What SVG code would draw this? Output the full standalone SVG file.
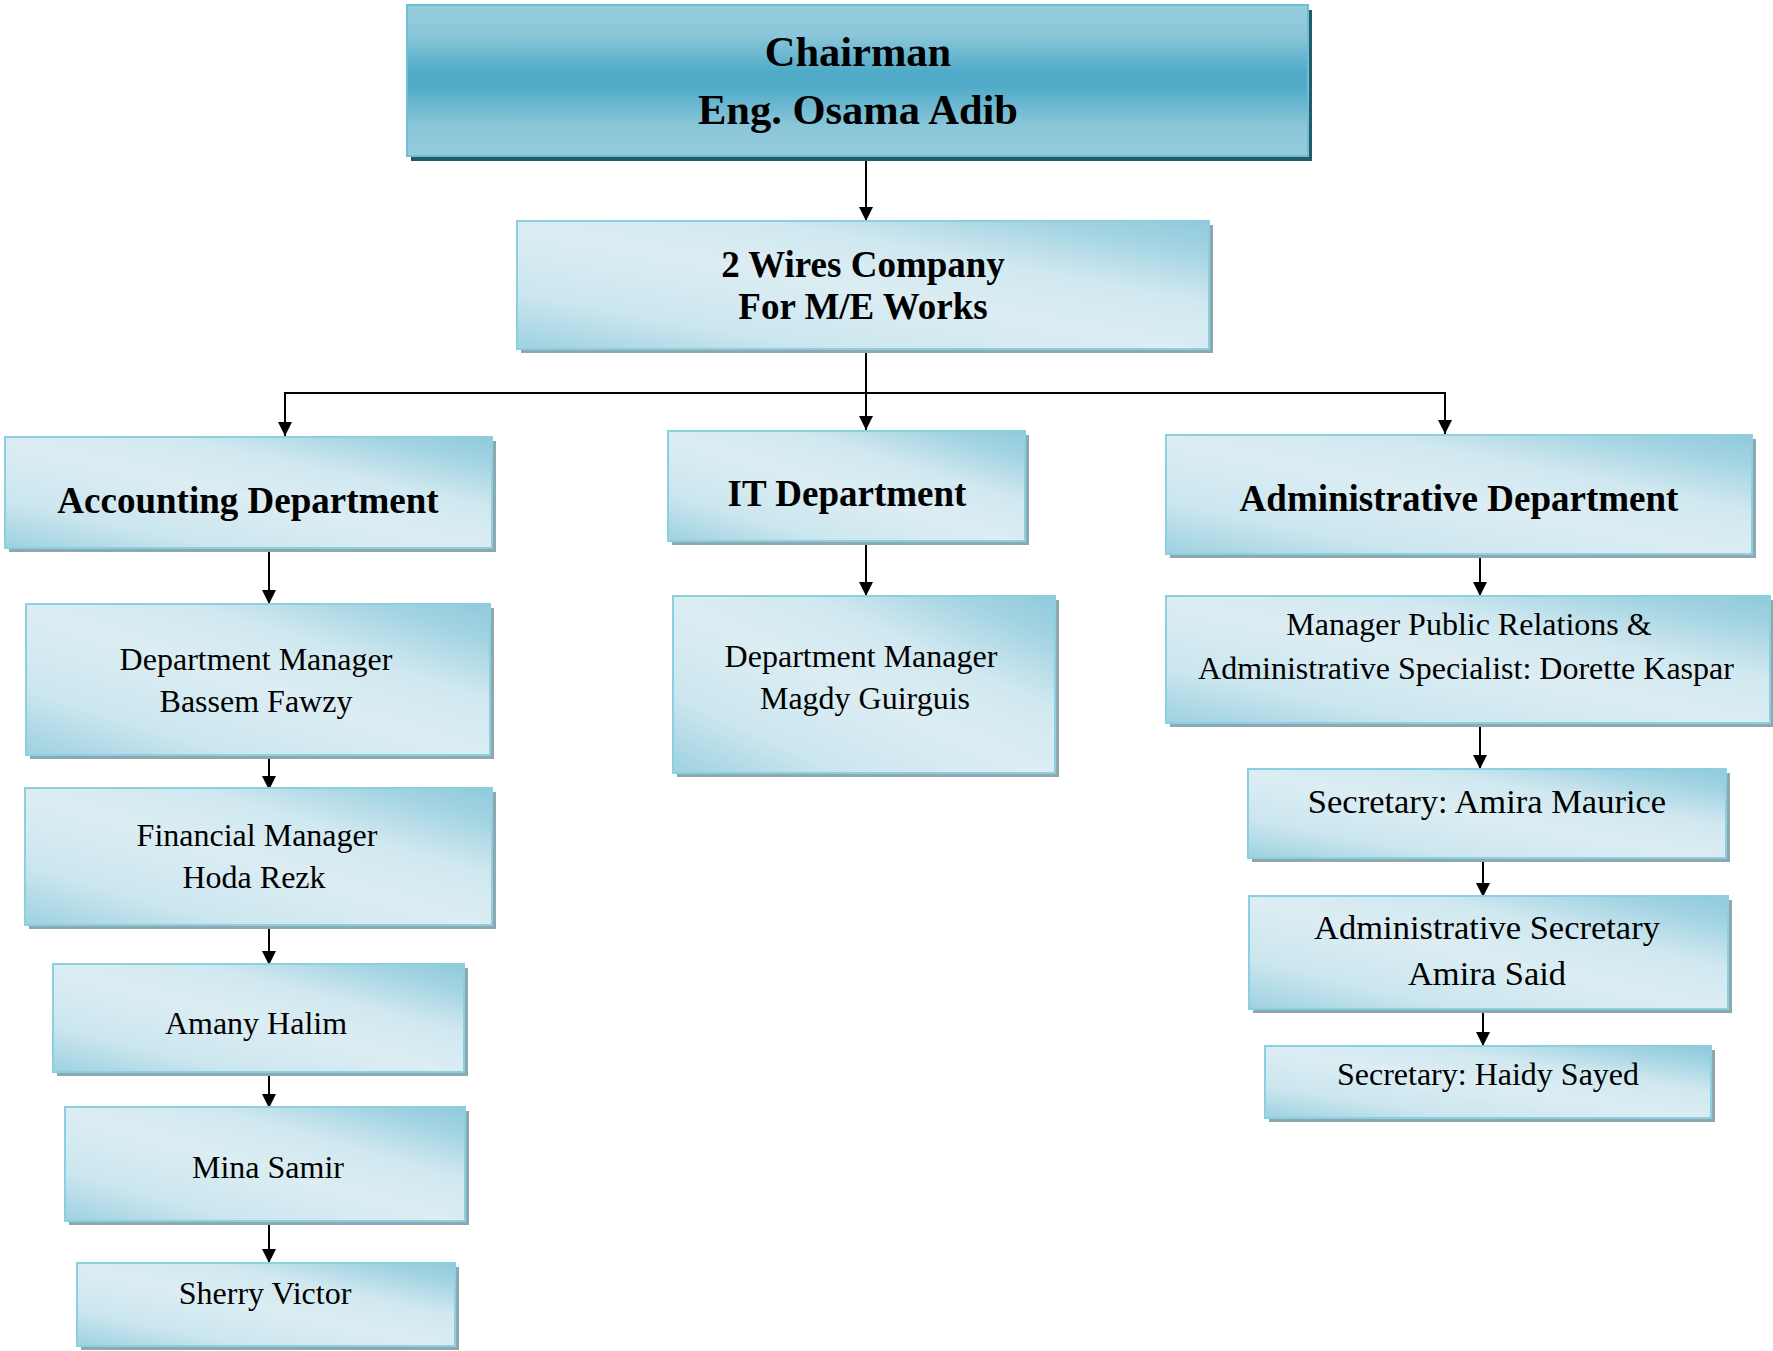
<svg xmlns="http://www.w3.org/2000/svg" width="1773" height="1351" viewBox="0 0 1773 1351">
<style>
.box{fill:url(#lg);stroke:#8ccfe0;stroke-width:2}
.sh{fill:#8ea8b0}
.t{font-family:"Liberation Serif","Times New Roman",serif;fill:#000;text-anchor:middle}
.b{font-weight:bold;font-size:37px}
.r{font-size:32px}
.c{stroke:#000;stroke-width:2;fill:none}
.a{marker-end:url(#arr)}
</style>
<defs>
<linearGradient id="lg" x1="0" y1="1" x2="1" y2="0">
<stop offset="0" stop-color="#9dd1e0"/>
<stop offset="0.22" stop-color="#cbe6ef"/>
<stop offset="0.48" stop-color="#dcedf3"/>
<stop offset="0.68" stop-color="#d0e8f0"/>
<stop offset="0.88" stop-color="#a2d3e2"/>
<stop offset="1" stop-color="#90cadb"/>
</linearGradient>
<linearGradient id="cg" x1="0" y1="0" x2="0" y2="1">
<stop offset="0" stop-color="#96cddd"/>
<stop offset="0.2" stop-color="#8ac6d9"/>
<stop offset="0.45" stop-color="#4eaac7"/>
<stop offset="0.55" stop-color="#52acc8"/>
<stop offset="0.8" stop-color="#8ac6d9"/>
<stop offset="1" stop-color="#96cddd"/>
</linearGradient>
<marker id="arr" viewBox="0 0 14 14" refX="14" refY="7" markerWidth="15" markerHeight="14" markerUnits="userSpaceOnUse" orient="auto">
<path d="M0,0 L14,7 L0,14 z" fill="#000"/>
</marker>
</defs>

<g id="connectors">
<line class="c a" x1="866" y1="157" x2="866" y2="221"/>
<line class="c a" x1="866" y1="350" x2="866" y2="430"/>
<line class="c" x1="284" y1="393" x2="1446" y2="393"/>
<line class="c a" x1="285" y1="392" x2="285" y2="436"/>
<line class="c a" x1="1445" y1="392" x2="1445" y2="434"/>
<line class="c a" x1="269" y1="550" x2="269" y2="604"/>
<line class="c a" x1="269" y1="757" x2="269" y2="790"/>
<line class="c a" x1="269" y1="929" x2="269" y2="965"/>
<line class="c a" x1="269" y1="1076" x2="269" y2="1108"/>
<line class="c a" x1="269" y1="1225" x2="269" y2="1263"/>
<line class="c a" x1="866" y1="545" x2="866" y2="596"/>
<line class="c a" x1="1480" y1="558" x2="1480" y2="596"/>
<line class="c a" x1="1480" y1="727" x2="1480" y2="769"/>
<line class="c a" x1="1483" y1="862" x2="1483" y2="897"/>
<line class="c a" x1="1483" y1="1013" x2="1483" y2="1046"/>
</g>

<g id="chairman">
<rect x="411" y="10" width="901" height="151" fill="#245b6b"/>
<rect x="407" y="5" width="901" height="151" fill="url(#cg)" stroke="#6cc0d6" stroke-width="2"/>
<text class="t" x="858" y="66" font-weight="bold" font-size="42.5">Chairman</text>
<text class="t" x="858" y="124" font-weight="bold" font-size="42.5">Eng. Osama Adib</text>
</g>

<g id="company">
<rect class="sh" x="521" y="225" width="692" height="128"/>
<rect class="box" x="517" y="221" width="692" height="128"/>
<text class="t b" x="863" y="277">2 Wires Company</text>
<text class="t b" x="863" y="319">For M/E Works</text>
</g>

<g id="accounting">
<rect class="sh" x="9" y="441" width="487" height="111"/>
<rect class="box" x="5" y="437" width="487" height="111"/>
<text class="t b" x="248" y="513">Accounting Department</text>
</g>

<g id="acc-manager">
<rect class="sh" x="30" y="608" width="464" height="151"/>
<rect class="box" x="26" y="604" width="464" height="151"/>
<text class="t r" x="256" y="670">Department Manager</text>
<text class="t r" x="256" y="712">Bassem Fawzy</text>
</g>

<g id="financial">
<rect class="sh" x="29" y="792" width="467" height="137"/>
<rect class="box" x="25" y="788" width="467" height="137"/>
<text class="t r" x="257" y="846">Financial Manager</text>
<text class="t r" x="254" y="888">Hoda Rezk</text>
</g>

<g id="amany">
<rect class="sh" x="57" y="968" width="411" height="108"/>
<rect class="box" x="53" y="964" width="411" height="108"/>
<text class="t r" x="256" y="1034">Amany Halim</text>
</g>

<g id="mina">
<rect class="sh" x="69" y="1111" width="400" height="114"/>
<rect class="box" x="65" y="1107" width="400" height="114"/>
<text class="t r" x="268" y="1178">Mina Samir</text>
</g>

<g id="sherry">
<rect class="sh" x="81" y="1267" width="378" height="83"/>
<rect class="box" x="77" y="1263" width="378" height="83"/>
<text class="t r" x="265" y="1304">Sherry Victor</text>
</g>

<g id="it">
<rect class="sh" x="672" y="435" width="357" height="110"/>
<rect class="box" x="668" y="431" width="357" height="110"/>
<text class="t b" x="847" y="506">IT Department</text>
</g>

<g id="it-manager">
<rect class="sh" x="677" y="600" width="382" height="177"/>
<rect class="box" x="673" y="596" width="382" height="177"/>
<text class="t r" x="861" y="667">Department Manager</text>
<text class="t r" x="865" y="709">Magdy Guirguis</text>
</g>

<g id="admin">
<rect class="sh" x="1170" y="439" width="586" height="119"/>
<rect class="box" x="1166" y="435" width="586" height="119"/>
<text class="t b" x="1459" y="511">Administrative Department</text>
</g>

<g id="pr-manager">
<rect class="sh" x="1170" y="600" width="604" height="127"/>
<rect class="box" x="1166" y="596" width="604" height="127"/>
<text class="t r" x="1469" y="635">Manager Public Relations &amp;</text>
<text class="t r" x="1466" y="679">Administrative Specialist: Dorette Kaspar</text>
</g>

<g id="sec-amira-maurice">
<rect class="sh" x="1252" y="773" width="478" height="89"/>
<rect class="box" x="1248" y="769" width="478" height="89"/>
<text class="t" x="1487" y="813" font-size="34.5">Secretary: Amira Maurice</text>
</g>

<g id="admin-secretary">
<rect class="sh" x="1253" y="900" width="479" height="113"/>
<rect class="box" x="1249" y="896" width="479" height="113"/>
<text class="t" x="1487" y="939" font-size="34.5">Administrative Secretary</text>
<text class="t" x="1487" y="985" font-size="34.5">Amira Said</text>
</g>

<g id="sec-haidy">
<rect class="sh" x="1269" y="1050" width="446" height="72"/>
<rect class="box" x="1265" y="1046" width="446" height="72"/>
<text class="t r" x="1488" y="1085">Secretary: Haidy Sayed</text>
</g>
</svg>
